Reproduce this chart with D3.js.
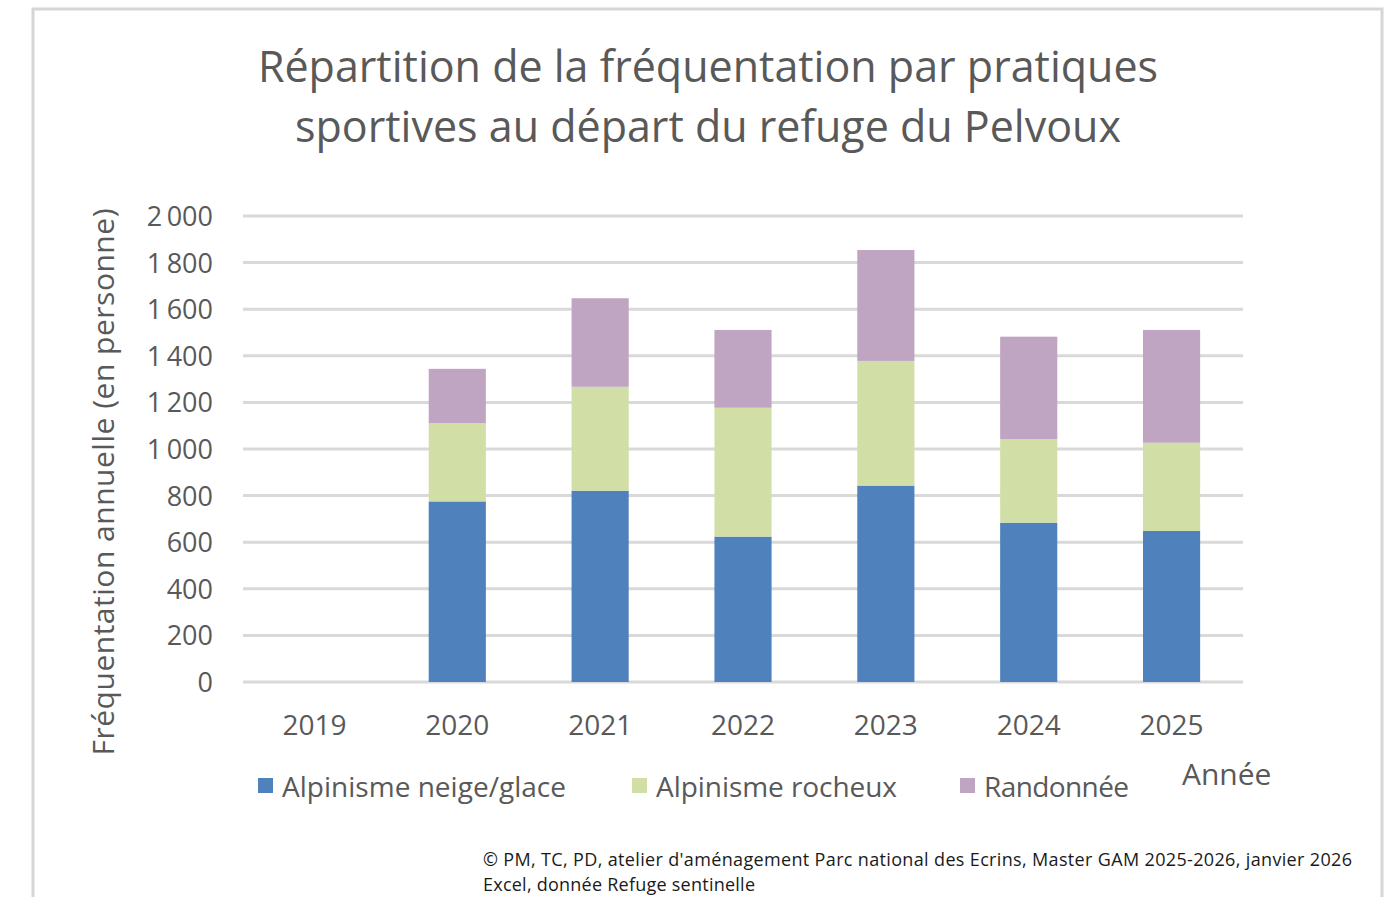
<!DOCTYPE html>
<html lang="fr">
<head>
<meta charset="UTF-8">
<title>Répartition de la fréquentation - refuge du Pelvoux</title>
<script src="https://d3js.org/d3.v7.min.js"></script>
<style>
    body { margin: 0; background: #fff; }
    svg text { font-family: "Open Sans", sans-serif; fill: #595959; }
    .grid line { stroke: #d9d9d9; stroke-width: 3; }
    .footer { fill: #1a1a1a; }
</style>
</head>
<body>
<svg id="chart"></svg>
<script>
// data
var years = ["2019", "2020", "2021", "2022", "2023", "2024", "2025"];
var neigeGlace = [0, 775, 821, 624, 843, 684, 648];
var rocheux    = [0, 336, 446, 553, 535, 358, 379];
var randonnee  = [0, 233, 380, 334, 476, 440, 484];
var seriesNames = ["Alpinisme neige/glace", "Alpinisme rocheux", "Randonnée"];
var seriesColors = ["#4f81bd", "#d1dfa7", "#bfa5c1"];
var yTicks = [0, 200, 400, 600, 800, 1000, 1200, 1400, 1600, 1800, 2000];

var svgWidth = 1391, svgHeight = 897;
var plotLeft = 243, plotRight = 1243, plotTop = 216, plotBottom = 682;

var svg = d3.select("#chart").attr("width", svgWidth).attr("height", svgHeight);

// chart frame
svg.append("rect")
    .attr("x", 33).attr("y", 9)
    .attr("width", 1349).attr("height", 920)
    .attr("fill", "none")
    .attr("stroke", "#d6d6d6")
    .attr("stroke-width", 3);

// title
var title = svg.append("text")
    .attr("text-anchor", "middle")
    .style("font-size", "43px");
title.append("tspan").attr("x", 708).attr("y", 82).text("Répartition de la fréquentation par pratiques");
title.append("tspan").attr("x", 708).attr("y", 142).text("sportives au départ du refuge du Pelvoux");

// scales
var xs = d3.scaleBand().domain(years).range([plotLeft, plotRight]).paddingInner(0.6).paddingOuter(0.3);
var ys = d3.scaleLinear().domain([0, 2000]).range([plotBottom, plotTop]);

// gridlines
svg.append("g")
    .attr("class", "grid")
    .selectAll("line")
    .data(yTicks)
    .enter()
    .append("line")
        .attr("x1", plotLeft).attr("x2", plotRight)
        .attr("y1", function(d) { return ys(d); })
        .attr("y2", function(d) { return ys(d); });

// y axis labels
var fmt = function(d) { return d >= 1000 ? Math.floor(d / 1000) + "\u2009" + d3.format("03d")(d % 1000) : String(d); };
var yAxis = svg.append("g")
    .attr("transform", "translate(" + (plotLeft - 30) + ",0)")
    .call(d3.axisLeft(ys).tickValues(yTicks).tickFormat(fmt).tickSize(0));
yAxis.select(".domain").remove();
yAxis.selectAll("text")
    .attr("x", 0)
    .attr("dy", "0.35em")
    .style("font-size", "27px")
    .style("font-family", "'Open Sans', sans-serif")
    .attr("fill", "#595959");

// stacked bars
var table = years.map(function(y, i) {
    return { year: y, a: neigeGlace[i], b: rocheux[i], c: randonnee[i] };
});
var stack = d3.stack().keys(["a", "b", "c"])(table);

svg.append("g")
    .selectAll("g")
    .data(stack)
    .enter()
    .append("g")
        .attr("fill", function(d, i) { return seriesColors[i]; })
    .selectAll("rect")
    .data(function(d) { return d; })
    .enter()
    .append("rect")
        .attr("x", function(d) { return xs(d.data.year); })
        .attr("width", xs.bandwidth())
        .attr("y", function(d) { return ys(d[1]); })
        .attr("height", function(d) { return ys(d[0]) - ys(d[1]); });

// x axis labels
var xAxis = svg.append("g")
    .attr("transform", "translate(0," + plotBottom + ")")
    .call(d3.axisBottom(xs).tickSize(0));
xAxis.select(".domain").remove();
xAxis.selectAll("text")
    .attr("y", 43)
    .attr("dy", "0.35em")
    .style("font-size", "28px")
    .style("font-family", "'Open Sans', sans-serif")
    .attr("fill", "#595959");

// y axis title
svg.append("text")
    .attr("transform", "translate(114,482) rotate(-90)")
    .attr("text-anchor", "middle")
    .attr("textLength", 547)
    .style("font-size", "30px")
    .text("Fréquentation annuelle (en personne)");

// legend
var legendX = [258, 632, 960];
var legendLen = [284, 241, 145];
var legend = svg.append("g")
    .selectAll("g")
    .data(seriesNames)
    .enter()
    .append("g")
        .attr("transform", function(d, i) { return "translate(" + legendX[i] + ",787)"; });
legend.append("rect")
    .attr("x", 0).attr("y", -9)
    .attr("width", 15).attr("height", 15)
    .attr("fill", function(d, i) { return seriesColors[i]; });
legend.append("text")
    .attr("x", 24).attr("y", 10)
    .attr("textLength", function(d, i) { return legendLen[i]; })
    .style("font-size", "28px")
    .text(function(d) { return d; });

svg.append("text")
    .attr("x", 1182).attr("y", 785)
    .style("font-size", "30px")
    .text("Année");

// source
svg.append("text")
    .attr("class", "footer")
    .attr("x", 483).attr("y", 866)
    .attr("textLength", 869)
    .style("font-size", "18px")
    .text("© PM, TC, PD, atelier d'aménagement Parc national des Ecrins, Master GAM 2025-2026, janvier 2026");
svg.append("text")
    .attr("class", "footer")
    .attr("x", 483).attr("y", 891)
    .attr("textLength", 272)
    .style("font-size", "18px")
    .text("Excel, donnée Refuge sentinelle");
</script>
</body>
</html>
